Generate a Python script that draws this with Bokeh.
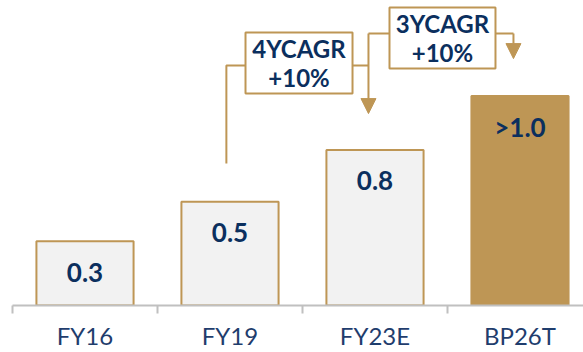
from bokeh.plotting import figure
from bokeh.models import (Range1d, FixedTicker, Arrow, NormalHead, ColumnDataSource)
from bokeh.core.properties import value
from bokeh.embed import file_html
from bokeh.resources import INLINE

# ---- data ----
categories = ["FY16", "FY19", "FY23E", "BP26T"]
values = [0.31, 0.50, 0.75, 1.01]
value_labels = ["0.3", "0.5", "0.8", ">1.0"]
cagr_labels = [("4YCAGR", "+10%"), ("3YCAGR", "+10%")]

# ---- styles ----
GOLD = "#BE9655"
LIGHT = "#F2F2F2"
NAVY = "#0B2F5E"
AXIS_TXT = "#1F3D6D"
GRAY = "#C0C0C0"
FONT = "Lato"

centers = [i + 0.5 for i in range(len(categories))]

p = figure(width=583, height=352, output_backend="svg", toolbar_location=None,
           x_range=Range1d(0, 3.938), y_range=Range1d(0, 1.47),
           min_border_left=12, min_border_right=0, min_border_top=0,
           min_border_bottom=47)
p.outline_line_color = None
p.grid.visible = False
p.yaxis.visible = False
p.background_fill_color = "white"

fills = [LIGHT, LIGHT, LIGHT, GOLD]
src = ColumnDataSource(dict(x=centers, top=values, fill=fills, lab=value_labels,
                            ly=[v - 0.149 for v in values]))
p.vbar(x="x", top="top", width=0.67, bottom=0, source=src,
       fill_color="fill", line_color=GOLD, line_width=2)
p.text(x="x", y="ly", text="lab", source=src, text_align="center",
       text_baseline="middle", text_font=value(FONT), text_font_style="bold",
       text_font_size="26px", text_color=NAVY)

# x axis: boundary ticks as minor ticks, labels at centers
ax = p.xaxis[0]
ax.ticker = FixedTicker(ticks=centers, minor_ticks=list(range(len(categories) + 1)))
ax.major_label_overrides = {c: lab for c, lab in zip(centers, categories)}
ax.major_tick_out = 0
ax.major_tick_in = 0
ax.minor_tick_out = 8
ax.minor_tick_in = 0
ax.minor_tick_line_color = GRAY
ax.minor_tick_line_width = 2
ax.axis_line_color = GRAY
ax.axis_line_width = 2
ax.major_label_text_font = FONT
ax.major_label_text_font_size = "24px"
ax.major_label_text_color = AXIS_TXT
ax.major_label_standoff = 7

# ---- CAGR annotations ----
def box(l, r, b, t, l1, l2, y1, y2):
    p.quad(left=l, right=r, bottom=b, top=t, fill_color="white",
           line_color=GOLD, line_width=2)
    cx = (l + r) / 2
    p.text(x=[cx, cx], y=[y1, y2], text=[l1, l2], text_align="center",
           text_baseline="middle", text_font=value(FONT), text_font_style="bold",
           text_font_size="24px", text_color=NAVY)

# box 1 (FY19 -> FY23E)
x_start1 = centers[1] - 0.025
b1l, b1r = 1.607, 2.345
x_arr1 = centers[2] - 0.045
y_con1 = 1.157
box(b1l, b1r, 1.022, 1.316, cagr_labels[0][0], cagr_labels[0][1], 1.239, 1.099)
p.line(x=[x_start1, x_start1, b1l], y=[0.684, y_con1, y_con1], line_color=GOLD, line_width=2)
p.line(x=[b1r, x_arr1], y=[y_con1, y_con1], line_color=GOLD, line_width=2)

# box 2 (FY23E -> BP26T)
b2l, b2r = 2.60, 3.331
x_arr2 = centers[3] - 0.045
y_con2 = 1.311
box(b2l, b2r, 1.142, 1.436, cagr_labels[1][0], cagr_labels[1][1], 1.357, 1.219)
p.line(x=[b2l, x_arr1], y=[y_con2, y_con2], line_color=GOLD, line_width=2)
p.add_layout(Arrow(x_start=x_arr1, y_start=y_con2, x_end=x_arr1, y_end=0.925,
                   line_color=GOLD, line_width=2,
                   end=NormalHead(size=15, fill_color=GOLD, line_color=GOLD)))
p.line(x=[b2r, x_arr2], y=[y_con2, y_con2], line_color=GOLD, line_width=2)
p.add_layout(Arrow(x_start=x_arr2, y_start=y_con2, x_end=x_arr2, y_end=1.190,
                   line_color=GOLD, line_width=2,
                   end=NormalHead(size=15, fill_color=GOLD, line_color=GOLD)))

open("out.html", "w").write(file_html(p, INLINE))
